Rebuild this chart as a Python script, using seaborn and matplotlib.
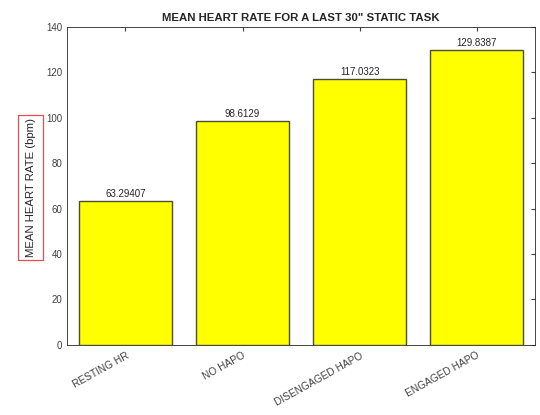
import numpy as np
import pandas as pd
import matplotlib
matplotlib.use("Agg")
import matplotlib.pyplot as plt
import matplotlib.patches as mpatches
import seaborn as sns

# data
categories = ["RESTING HR", "NO HAPO", "DISENGAGED HAPO", "ENGAGED HAPO"]
mean_hr = [63.29407, 98.6129, 117.0323, 129.8387]
value_labels = ["63.29407", "98.6129", "117.0323", "129.8387"]
y_ticks = [0, 20, 40, 60, 80, 100, 120, 140]

df = pd.DataFrame({"condition": categories, "hr": mean_hr})

sns.set_style("white")
plt.rcParams["font.family"] = ["Liberation Sans", "DejaVu Sans"]

fig = plt.figure(figsize=(5.4, 4.15), dpi=100)
ax = fig.add_axes([0.124, 0.169, 0.867, 0.766])

sns.barplot(data=df, x="condition", y="hr", color="#ffff00", saturation=1,
            width=0.8, edgecolor="#4d4d33", linewidth=1.0, ax=ax)

ax.set_xlim(-0.5, 3.5)
ax.set_ylim(0, 140)
ax.set_yticks(y_ticks)
ax.set_yticklabels([str(t) for t in y_ticks], fontsize=7, color="#404040")
ax.set_xticks(range(len(categories)))
ax.set_xticklabels(categories, rotation=29, ha="right", rotation_mode="anchor",
                   fontsize=7.3, color="#404040")
ax.tick_params(direction="in", length=3, color="#404040", top=True, right=True)
ax.tick_params(axis="x", pad=4)
ax.set_xlabel("")
ax.set_ylabel("")
for sp in ax.spines.values():
    sp.set_visible(True)
    sp.set_color("#262626")
    sp.set_linewidth(0.6)

for i, (v, lab) in enumerate(zip(mean_hr, value_labels)):
    ax.text(i, v + 0.8, lab, ha="center", va="bottom", fontsize=7, color="#262626")

ax.set_title("MEAN HEART RATE FOR A LAST 30\" STATIC TASK", fontsize=8.2,
             fontweight="bold", pad=4)

# y label with red frame around it
fig.text(0.057, 0.549, "MEAN HEART RATE (bpm)", rotation=90, ha="center",
         va="center", fontsize=8.2, color="#262626")
fig.patches.append(mpatches.Rectangle((18 / 540, 1 - 260 / 415), 25 / 540, 145 / 415,
                                      transform=fig.transFigure, fill=False,
                                      ec="#e05050", lw=0.9))

fig.savefig("out.png", dpi=100)
